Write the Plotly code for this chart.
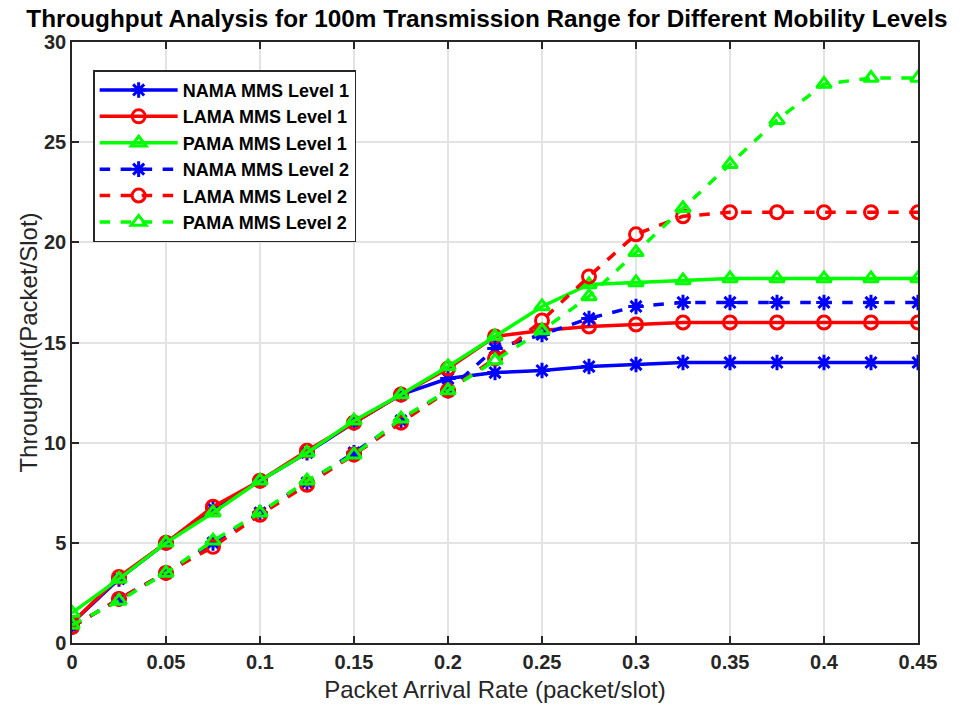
import plotly.graph_objects as go

x = [0, 0.025, 0.05, 0.075, 0.1, 0.125, 0.15, 0.175, 0.2, 0.225, 0.25, 0.275, 0.3, 0.325, 0.35, 0.375, 0.4, 0.425, 0.45]

nama_l1 = [1.0, 3.2, 5.0, 6.7, 8.1, 9.5, 11.0, 12.4, 13.2, 13.5, 13.6, 13.8, 13.9, 14.0, 14.0, 14.0, 14.0, 14.0, 14.0]
lama_l1 = [1.0, 3.3, 5.0, 6.8, 8.1, 9.6, 11.0, 12.4, 13.7, 15.3, 15.6, 15.8, 15.9, 16.0, 16.0, 16.0, 16.0, 16.0, 16.0]
pama_l1 = [1.5, 3.2, 5.0, 6.5, 8.1, 9.5, 11.1, 12.4, 13.8, 15.3, 16.8, 17.9, 18.0, 18.1, 18.2, 18.2, 18.2, 18.2, 18.2]
nama_l2 = [0.8, 2.2, 3.5, 5.0, 6.5, 8.0, 9.5, 11.1, 12.6, 14.7, 15.4, 16.2, 16.8, 17.0, 17.0, 17.0, 17.0, 17.0, 17.0]
lama_l2 = [0.8, 2.2, 3.5, 4.8, 6.4, 7.9, 9.4, 11.0, 12.6, 14.2, 16.1, 18.3, 20.4, 21.3, 21.5, 21.5, 21.5, 21.5, 21.5]
pama_l2 = [0.9, 2.1, 3.5, 5.1, 6.5, 8.1, 9.4, 11.2, 12.6, 14.1, 15.6, 17.3, 19.5, 21.7, 23.9, 26.1, 27.9, 28.2, 28.2]

series = [
    ("NAMA MMS Level 1", nama_l1, "#0000FF", "asterisk-open", "solid"),
    ("LAMA MMS Level 1", lama_l1, "#FF0000", "circle-open", "solid"),
    ("PAMA MMS Level 1", pama_l1, "#00FF00", "triangle-up-open", "solid"),
    ("NAMA MMS Level 2", nama_l2, "#0000FF", "asterisk-open", "dash"),
    ("LAMA MMS Level 2", lama_l2, "#FF0000", "circle-open", "dash"),
    ("PAMA MMS Level 2", pama_l2, "#00FF00", "triangle-up-open", "dash"),
]

fig = go.Figure()
for name, y, color, sym, dash in series:
    fig.add_trace(go.Scatter(
        x=x, y=y, name=name, mode="lines+markers",
        line=dict(color=color, width=3.5, dash=dash),
        marker=dict(symbol=sym, size=13, color=color, line=dict(color=color, width=3)),
    ))

font_family = "Liberation Sans, Arial, sans-serif"
axis_common = dict(
    showgrid=True, gridcolor="#E3E3E3", gridwidth=1.5,
    showline=True, linecolor="#262626", linewidth=1.5, mirror="ticks",
    ticks="inside", ticklen=7, tickcolor="#262626", tickwidth=1.5,
    zeroline=False,
    tickfont=dict(family=font_family, size=20, color="#262626", weight="bold"),
)

fig.update_layout(
    width=968, height=711,
    paper_bgcolor="white", plot_bgcolor="white",
    margin=dict(l=72, r=50, t=42, b=68),
    title=dict(
        text="Throughput Analysis for 100m Transmission Range for Different Mobility Levels",
        x=0.503, xanchor="center", y=0.974, yanchor="middle",
        font=dict(family=font_family, size=24.3, color="black", weight="bold"),
    ),
    xaxis=dict(
        range=[0, 0.45], tickvals=[0, 0.05, 0.1, 0.15, 0.2, 0.25, 0.3, 0.35, 0.4, 0.45],
        ticktext=["0", "0.05", "0.1", "0.15", "0.2", "0.25", "0.3", "0.35", "0.4", "0.45"],
        title=dict(text="Packet Arrival Rate (packet/slot)", standoff=9,
                   font=dict(family=font_family, size=24, color="#262626")),
        **axis_common,
    ),
    yaxis=dict(
        range=[0, 30], tickvals=[0, 5, 10, 15, 20, 25, 30],
        title=dict(text="Throughput(Packet/Slot)", standoff=0,
                   font=dict(family=font_family, size=24, color="#262626")),
        **axis_common,
    ),
    legend=dict(
        x=0.025, y=0.953, xanchor="left", yanchor="top",
        bgcolor="white", bordercolor="#262626", borderwidth=1.5,
        font=dict(family=font_family, size=18, color="black", weight="bold"),
        itemwidth=78, tracegroupgap=0,
    ),
    showlegend=True,
)

fig.write_html("out.html", config={"displayModeBar": False},
               post_script="document.body.style.margin='0';")
